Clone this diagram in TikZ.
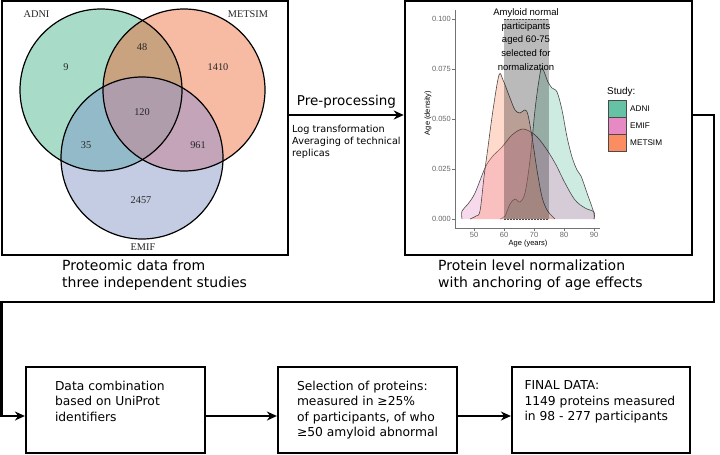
\documentclass[tikz,border=0pt]{standalone}
\usepackage{fontspec}
\setmainfont{DejaVu Sans}
\newfontfamily\vennfont{Liberation Serif}
\newfontfamily\plotfont{Liberation Sans}
\usetikzlibrary{arrows.meta, positioning}
\definecolor{ClrADNI}{HTML}{66C2A5}
\definecolor{ClrEMIF}{HTML}{E78AC3}
\definecolor{ClrMETSIM}{HTML}{FC8D62}
\definecolor{VennA}{HTML}{A8DCC9}
\definecolor{VennM}{HTML}{F7BBA3}
\definecolor{VennE}{HTML}{C4CCE3}
\definecolor{VennAM}{HTML}{C9A27F}
\definecolor{VennAE}{HTML}{92BAC8}
\definecolor{VennME}{HTML}{C3A4B8}
\definecolor{VennAME}{HTML}{AF9DAB}
\definecolor{DensLine}{HTML}{4A4A4A}
\def\Wth{2.2pt}
\def\Rv{81pt}
\tikzset{
    panel/.style={draw, line width=2.5pt, minimum width=#1, minimum height=254pt, inner sep=0pt},
    flowbox/.style={draw, line width=\Wth, minimum width=179pt, minimum height=86pt,
        inner sep=0pt, font=\fontsize{12.3}{15.5}\selectfont},
    flow/.style={line width=\Wth, -{Stealth[length=10pt,width=9pt]}},
    caption/.style={font=\fontsize{14}{17}\selectfont, align=left, inner sep=0pt},
    venntxt/.style={font=\vennfont\fontsize{10.3}{12}\selectfont, text=black!85},
    axis/.style={draw=black!55, line width=.6pt},
    ticklab/.style={font=\plotfont\fontsize{7.5}{9}\selectfont, text=black!60, inner sep=1pt},
    leglab/.style={font=\plotfont\fontsize{8.2}{10}\selectfont, inner sep=1pt},
    dens/.style={fill=#1, fill opacity=.32, draw=DensLine, line width=.6pt}
}

\begin{document}
\begin{tikzpicture}[x=1pt, y=-1pt]
    \useasboundingbox (0,0) rectangle (720,455);

    % two upper panels
    \node[panel=286pt] (venn) at (145,128) {};
    \node[panel=287pt] (norm) at (548.5,128) {};
    \node[caption, anchor=north west] (venncap) at (62,259.5) {Proteomic data from\\three independent studies};
    \node[caption, anchor=north west] (normcap) at (438,259.5) {Protein level normalization\\with anchoring of age effects};

    % venn diagram
    \coordinate (cA) at (101,90);
    \coordinate (cM) at (184,90);
    \coordinate (cE) at (142,158);
    \fill[VennA] (cA) circle (\Rv);
    \fill[VennM] (cM) circle (\Rv);
    \fill[VennE] (cE) circle (\Rv);
    \begin{scope}
        \clip (cA) circle (\Rv);
        \fill[VennAM] (cM) circle (\Rv);
        \fill[VennAE] (cE) circle (\Rv);
        \clip (cM) circle (\Rv);
        \fill[VennAME] (cE) circle (\Rv);
    \end{scope}
    \begin{scope}
        \clip (cM) circle (\Rv);
        \clip (cE) circle (\Rv);
        \fill[VennME] (cE) circle (\Rv);
        \clip (cA) circle (\Rv);
        \fill[VennAME] (cE) circle (\Rv);
    \end{scope}
    \foreach \c in {cA,cM,cE}
        \draw[line width=1.2pt] (\c) circle (\Rv);
    \node[venntxt] (lADNI) at (36.5,14) {ADNI};
    \node[venntxt] (lMETSIM) at (248,14) {METSIM};
    \node[venntxt] (lEMIF) at (143,247) {EMIF};
    \foreach \nm/\px/\py in {9/66/67, 48/142/47, 1410/218/67, 120/142/112, 35/86/145, 961/198/145, 2457/141/200}
        \node[venntxt] (n\nm) at (\px,\py) {\nm};

    % pre-processing step
    \coordinate (row) at (0,115);
    \draw[flow] (venn.east |- row) -- (norm.west |- row)
        node[midway, above=2pt, font=\fontsize{13.5}{16}\selectfont] (pre) {Pre-processing};
    \node[anchor=north west, align=left, inner sep=0pt, font=\fontsize{9.7}{12}\selectfont] (prenote)
        at (292,125) {Log transformation\\Averaging of technical\\replicas};

    % density plot
    \draw[dens=ClrADNI] plot[smooth, tension=.55] coordinates {(500,219) (505,216) (510,204) (515,199) (520,202)
        (525,193) (530,160) (535,110) (539,80) (542,68) (548,82) (552,88) (557,92) (562,110) (567,137)
        (572,157) (577,170) (581,176) (587,193) (592,207) (594,214) (594,219)};
    \draw[dens=ClrEMIF] plot[smooth, tension=.55] coordinates {(462,219) (462,211) (468,204) (475,193) (485,168)
        (492,157) (502,147) (512,135) (523,129) (535,135) (545,147) (555,163) (565,183) (575,200)
        (585,208) (594,212) (594,219)};
    \draw[dens=ClrMETSIM] plot[smooth, tension=.55] coordinates {(470,219) (476,216) (480,211) (484,177)
        (488,147) (493,110) (499,75) (503,80) (510,98) (515,110) (520,113) (525,110) (528,115)
        (532,137) (537,170) (542,197) (547,210) (552,216) (555,219)};
    \fill[black, opacity=.27] (504,19) rectangle (549,219);
    \draw[DensLine, dashed, dash pattern=on 1.5pt off 1.5pt, line width=.5pt] (504,19) -- (549,19) (504,219) -- (549,219);
    \node[align=center, inner sep=0pt, font=\plotfont\fontsize{9.5}{13.7}\selectfont] (amyloid)
        at (526,39.5) {Amyloid normal\\participants\\aged 60-75\\selected for\\normalization};

    \draw[axis] (455,10) -- (455,228) -- (600,228);
    \foreach \py/\lab in {19/0.100, 69/0.075, 119/0.050, 169/0.025, 219/0.000}{
        \draw[axis] (452,\py) -- (455,\py);
        \node[ticklab, anchor=east] (yt\py) at (452,\py) {\lab};
    }
    \foreach \px/\lab in {474/50, 504/60, 534/70, 564/80, 594/90}{
        \draw[axis] (\px,228) -- (\px,231);
        \node[ticklab, anchor=north] (xt\lab) at (\px,231) {\lab};
    }
    \node[ticklab, text=black] (xlab) at (528,243.5) {Age (years)};
    \node[ticklab, text=black, rotate=90] (ylab) at (428,113) {Age (density)};

    % legend
    \node[anchor=west, inner sep=1pt, font=\plotfont\fontsize{9.9}{12}\selectfont] (studyhd) at (606,91.5) {Study:};
    \foreach \k/\nm/\py in {ClrADNI/ADNI/108.5, ClrEMIF/EMIF/125.5, ClrMETSIM/METSIM/142.5}{
        \draw[fill=\k, draw=DensLine, line width=.6pt] (608,\py-8.5) rectangle (626,\py+8.5);
        \node[leglab, anchor=west] (lg\nm) at (629,\py) {\nm};
    }

    % lower flow
    \node[flowbox] (combo) at (115.5,410) {\parbox[t][58pt][t]{121pt}{Data combination\\based on UniProt\\identifiers}};
    \node[flowbox] (select) at (367.5,410) {\parbox[t][58pt][t]{141pt}{Selection of proteins:\\measured in ≥25\%\\of participants, of who\\≥50 amyloid abnormal}};
    \node[flowbox, minimum width=178pt] (final) at (601,410) {\parbox[t][58pt][t]{153pt}{FINAL DATA:\\1149 proteins measured\\in 98 - 277 participants}};

    \coordinate (row2) at (0,416);
    \coordinate (turnR) at (714,302);
    \coordinate (turnL) at (1.5,302);
    \draw[flow] (norm.east |- row) -| (turnR) -- (turnL) |- (combo.west |- row2);
    \draw[flow] (combo.east |- row2) -- (select.west |- row2);
    \draw[flow] (select.east |- row2) -- (final.west |- row2);
\end{tikzpicture}
\end{document}
